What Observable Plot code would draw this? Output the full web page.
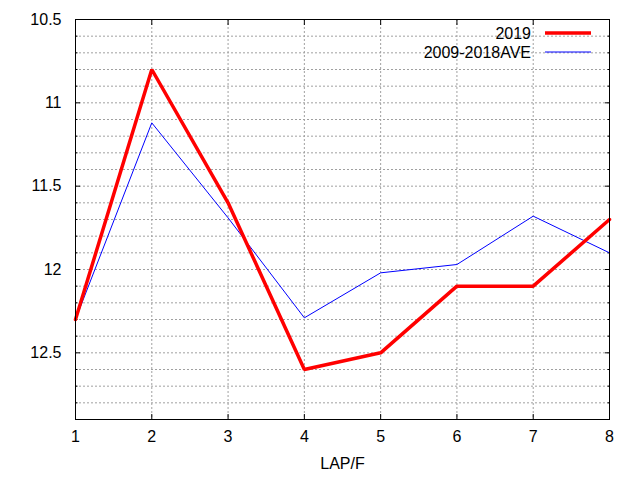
<!DOCTYPE html>
<html><head><meta charset="utf-8">
<script src="https://cdn.jsdelivr.net/npm/d3@7"></script>
<script src="https://cdn.jsdelivr.net/npm/@observablehq/plot@0.6"></script>
<style>
body{margin:0;background:#fff;}
#wrap{position:relative;width:640px;height:480px;font-family:"Liberation Sans",Arial,sans-serif;}
#legend{position:absolute;left:0;top:0;pointer-events:none;}
</style></head><body><div id="wrap"></div>
<script>
const laps = [1, 2, 3, 4, 5, 6, 7, 8];
const series2019 = [12.3, 10.8, 11.6, 12.6, 12.5, 12.1, 12.1, 11.7];
const seriesAve = [12.3, 11.12, 11.69, 12.29, 12.02, 11.97, 11.68, 11.9];
const seriesNames = ["2019", "2009-2018AVE"];
const seriesColors = ["#ff0000", "#0000ff"];
const seriesWidths = [3.5, 1];
const yDomain = [10.5, 12.9];
const yMajorTicks = [10.5, 11, 11.5, 12, 12.5];
const yMinorTicks = [10.6, 10.7, 10.8, 10.9, 11.1, 11.2, 11.3, 11.4, 11.6, 11.7, 11.8, 11.9, 12.1, 12.2, 12.3, 12.4, 12.6, 12.7, 12.8];
const yGridValues = [10.6, 10.7, 10.8, 10.9, 11, 11.1, 11.2, 11.3, 11.4, 11.5, 11.6, 11.7, 11.8, 11.9, 12, 12.1, 12.2, 12.3, 12.4, 12.5, 12.6, 12.7, 12.8];
const xTicks = [1, 2, 3, 4, 5, 6, 7, 8];
const xGridValues = [2, 3, 4, 5, 6, 7];
const xLabel = "LAP/F";

const rows = [];
laps.forEach((lap, i) => {
  rows.push({lap, value: series2019[i], series: seriesNames[0]});
});
laps.forEach((lap, i) => {
  rows.push({lap, value: seriesAve[i], series: seriesNames[1]});
});

const gridStyle = {stroke: "#a0a0a0", strokeOpacity: 1, strokeWidth: 1, strokeDasharray: "2,2"};
const empty = () => "";

const chart = Plot.plot({
  width: 640,
  height: 480,
  marginLeft: 75,
  marginRight: 31,
  marginTop: 19,
  marginBottom: 61,
  style: {fontFamily: '"Liberation Sans", Arial, sans-serif', fontSize: "16px", background: "#fff", color: "#000"},
  x: {domain: [1, 8]},
  y: {domain: yDomain, reverse: true},
  marks: [
    Plot.ruleY(yGridValues, {...gridStyle}),
    Plot.ruleX(xGridValues, {...gridStyle}),
    Plot.axisY(yMajorTicks, {anchor: "left", tickSize: -5, tickPadding: 19, label: null, tickFormat: d => String(d), fontSize: 16, stroke: "#000"}),
    Plot.axisY(yMinorTicks, {anchor: "left", tickSize: -2.5, tickFormat: empty, label: null}),
    Plot.axisY(yMajorTicks, {anchor: "right", tickSize: -5, tickFormat: empty, label: null}),
    Plot.axisY(yMinorTicks, {anchor: "right", tickSize: -2.5, tickFormat: empty, label: null}),
    Plot.axisX(xTicks, {anchor: "bottom", tickSize: -5, tickPadding: 16, label: null, tickFormat: d => String(d), fontSize: 16}),
    Plot.axisX(xTicks, {anchor: "top", tickSize: -5, tickFormat: empty, label: null}),
    Plot.text([xLabel], {frameAnchor: "bottom", dy: 38, lineAnchor: "top", text: d => d, fontSize: 16}),
    Plot.line(rows.filter(d => d.series === seriesNames[1]), {x: "lap", y: "value", stroke: seriesColors[1], strokeWidth: seriesWidths[1], strokeLinejoin: "miter"}),
    Plot.line(rows.filter(d => d.series === seriesNames[0]), {x: "lap", y: "value", stroke: seriesColors[0], strokeWidth: seriesWidths[0], strokeLinejoin: "miter"}),
    Plot.frame({stroke: "#000", strokeWidth: 1})
  ]
});

const wrap = document.getElementById("wrap");
wrap.appendChild(chart);

// legend overlay (top-right inside the plot frame)
const ns = "http://www.w3.org/2000/svg";
const leg = document.createElementNS(ns, "svg");
leg.setAttribute("id", "legend");
leg.setAttribute("width", 640);
leg.setAttribute("height", 480);
seriesNames.forEach((name, i) => {
  const yy = 33 + i * 19;
  const t = document.createElementNS(ns, "text");
  t.setAttribute("x", 531);
  t.setAttribute("y", yy);
  t.setAttribute("dy", "0.35em");
  t.setAttribute("text-anchor", "end");
  t.setAttribute("font-size", "16");
  t.setAttribute("font-family", '"Liberation Sans", Arial, sans-serif');
  t.textContent = name;
  leg.appendChild(t);
  const l = document.createElementNS(ns, "line");
  l.setAttribute("x1", 545);
  l.setAttribute("x2", 591);
  l.setAttribute("y1", yy);
  l.setAttribute("y2", yy);
  l.setAttribute("stroke", seriesColors[i]);
  l.setAttribute("stroke-width", seriesWidths[i]);
  leg.appendChild(l);
});
wrap.appendChild(leg);
</script>
</body></html>
